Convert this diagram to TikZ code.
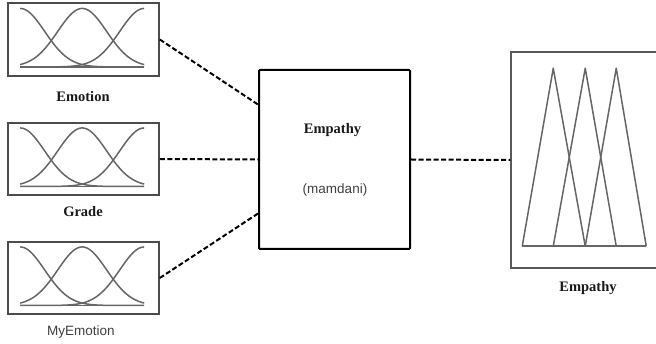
\documentclass[tikz,border=0pt]{standalone}
\usepackage{fontspec}
\setmainfont{Liberation Serif}
\newfontfamily\arialfont{Liberation Sans}
\begin{document}
\begin{tikzpicture}[x=1pt,y=-1pt,
  mfline/.style={draw=black!60,line width=1.5pt},
  inbox/.style={draw=black!70,line width=1.6pt,rectangle,inner sep=0pt,
    minimum width=151pt,minimum height=72.5pt},
  corebox/.style={draw=black,line width=2pt,rectangle,rounded corners=1pt,inner sep=0pt,
    minimum width=151pt,minimum height=179pt},
  outbox/.style={draw=black!65,line width=1.5pt,rectangle,inner sep=0pt,
    minimum width=151pt,minimum height=216pt},
  link/.style={draw=black,line width=2pt,dash pattern=on 5pt off 2.5pt},
  serlabel/.style={font=\fontsize{14.5}{16}\selectfont\bfseries,text=black!90,inner sep=0pt},
  sanlabel/.style={font=\arialfont\fontsize{13.5}{15}\selectfont,text=black!75,inner sep=0pt},
  % three gaussian membership functions, origin at the box's top-left corner
  gaussmf/.pic={
    \draw[mfline] (13,64.5) -- (137,64.5);
    \draw[mfline] plot[domain=13:137,samples=70,smooth] (\x,{64.5-58.5*exp(-((\x-13)^2)/1200)});
    \draw[mfline] plot[domain=13:137,samples=70,smooth] (\x,{64.5-58.5*exp(-((\x-75)^2)/1200)});
    \draw[mfline] plot[domain=13:137,samples=70,smooth] (\x,{64.5-58.5*exp(-((\x-137)^2)/1200)});
  }]
\useasboundingbox (0,0) rectangle (656,344);

% input variables
\node[inbox] (b1) at (83.5,39.5) {};
\node[inbox] (b2) at (83.5,159) {};
\node[inbox] (b3) at (83.5,278) {};
\pic at (b1.north west) {gaussmf};
\pic at (b2.north west) {gaussmf};
\pic at (b3.north west) {gaussmf};
\node[serlabel] (l1) at (83,97) {Emotion};
\node[serlabel] (l2) at (83,212) {Grade};
\node[sanlabel] (l3) at (81,332) {MyEmotion};

% inference system
\node[corebox] (core) at (334.5,159.5) {};
\node[serlabel] (coretitle) at (332.5,130) {Empathy};
\node[sanlabel] (coretype) at (335,190) {(mamdani)};

% output variable with triangular membership functions
\node[outbox] (out) at (586.5,160) {};
\begin{scope}[shift={(out.north west)}]
  \draw[mfline,line join=round] (12,195) -- (136,195);
  \draw[mfline,line join=round] (12,195) -- (43,17) -- (75,195);
  \draw[mfline,line join=round] (43,195) -- (75,17) -- (106,195);
  \draw[mfline,line join=round] (75,195) -- (106,17) -- (136,195);
\end{scope}
\node[serlabel] (l4) at (588,288) {Empathy};

% connections
\draw[link] (b1.east) -- ([yshift=55pt]core.west);
\draw[link] (b2.east) -- (core.west);
\draw[link] (b3.east) -- ([yshift=-54pt]core.west);
\draw[link] (core.east) -- (out.west);
\end{tikzpicture}
\end{document}
